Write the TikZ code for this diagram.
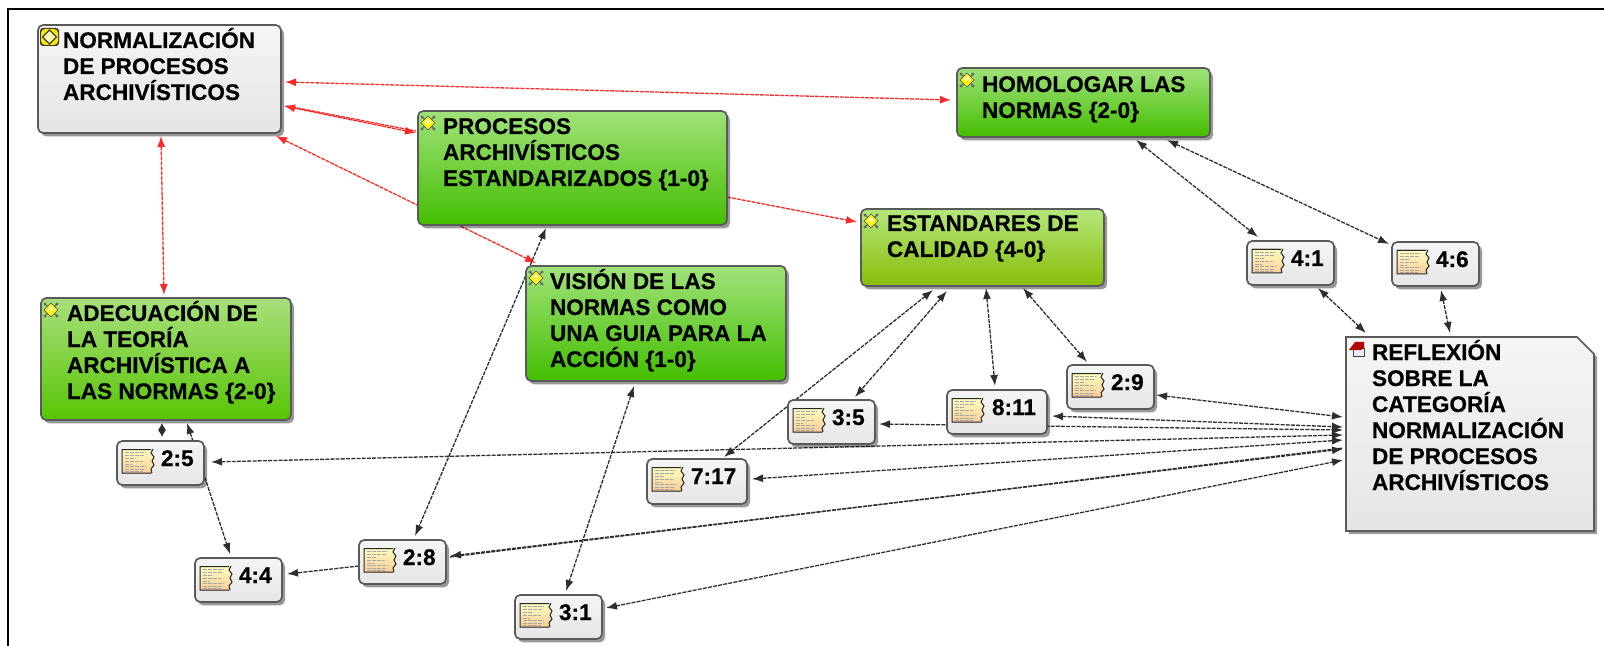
\documentclass[tikz,border=0pt]{standalone}
\usepackage{fontspec}
\setmainfont{Liberation Sans}[BoldFeatures={FakeBold=0.5}]
\usetikzlibrary{arrows.meta,calc,shadows,backgrounds}
\pgfdeclarelayer{bottom}
\pgfsetlayers{bottom,background,main}
\definecolor{lnred}{HTML}{FF2A2A}
\definecolor{lnblk}{HTML}{2E2E2E}
\definecolor{bordr}{HTML}{5A5A5A}
\definecolor{green1}{HTML}{A0E27A}
\definecolor{green2}{HTML}{43BE00}
\definecolor{lime1}{HTML}{B4E67C}
\definecolor{lime2}{HTML}{88BE08}
\definecolor{ade1}{HTML}{A8E07C}
\definecolor{ade2}{HTML}{58C404}
\tikzset{
  x=0.5pt,y=-0.5pt,
  basebox/.style={draw=bordr,line width=0.85pt,rounded corners=2.6pt,inner sep=0pt,outer sep=0pt,anchor=north west,
    general shadow={fill=black,opacity=.4,shadow xshift=1.5pt,shadow yshift=-1.7pt}},
  graybox/.style={basebox,top color=white!96!black,bottom color=white!90!black},
  greenbox/.style={basebox,top color=green1,bottom color=green2},
  limebox/.style={basebox,top color=lime1,bottom color=lime2},
  adebox/.style={basebox,top color=ade1,bottom color=ade2},
  rellink/.style={lnred,line width=.65pt,dash pattern=on 2pt off .5pt},
  cititem/.style={lnblk,line width=.65pt,dash pattern=on 2pt off .6pt},
  both/.style={{Latex[length=5.5pt,width=4pt]}-{Latex[length=5.5pt,width=4pt]}},
  one/.style={-{Latex[length=5.5pt,width=4pt]}},
  shortboth/.style={{Latex[length=3.4pt,width=4pt]}-{Latex[length=3.4pt,width=4pt]}},
}
% box: name, style, x1,y1,x2,y2, text x, first baseline y, text
\newcommand\bx[9]{%
  \pgfmathsetlengthmacro\bw{(#5-#3)*0.5pt}%
  \pgfmathsetlengthmacro\bh{(#6-#4)*0.5pt}%
  \pgfmathsetlengthmacro\bl{(#7-#3)*0.5pt}%
  \pgfmathsetlengthmacro\bb{(#8-#4)*0.5pt}%
  \node[#2,minimum width=\bw,minimum height=\bh] (#1) at (#3,#4)
   {\parbox[c][\bh][t]{\bw}{\fontsize{11.3}{13}\bfseries\raggedright\leftskip=\bl\rule{0pt}{\bb}#9}};%
}
\newcommand\qbx[4]{\bx{#1}{graybox}{#2}{#3}{\the\numexpr #2+87\relax}{\the\numexpr #3+44\relax}{\the\numexpr #2+44\relax}{\the\numexpr #3+25\relax}{#4}}
\newcommand\lnk[7]{\draw[#1] ($(#2.north west)+(#3,#4)$) -- ($(#5.north west)+(#6,#7)$);}
\newcommand\codeicon[1]{%
 \begin{scope}[shift={(#1.north west)}]
  \draw[gray!85!black,line width=.7pt] (4,6)--(16,18) (16,6)--(4,18);
  \fill[black!60] (4,6) circle (.8pt) (16,6) circle (.8pt) (4,18) circle (.8pt) (16,18) circle (.8pt);
  \draw[black!70,line width=.25pt,fill=yellow!90!white] (10,5)--(17,12)--(10,19)--(3,12)--cycle;
  \fill[white!70!yellow] (10,8)--(13,11)--(10,13)--(7,11)--cycle;
 \end{scope}}
\newcommand\docicon[1]{%
 \begin{scope}[shift={(#1.north west)}]
  \fill[top color=yellow!25!white,bottom color=orange!40!white] (5,8)--(36,8)--(34,12)--(37,16)--(35,20)--(37,24)--(34,28)--(35,32)--(5,32)--cycle;
  \draw[black!85,line width=.5pt] (34,8.5)--(5,8.5)--(5,32)--(34,32) (36,8)--(34,12)--(37,16)--(35,20)--(37,24)--(34,28)--(35,32);
  \foreach \yy/\xa in {11/29,14/27,17/18,20/26,23/15,25.5/29,28/28,30/26}{\draw[black!35,line width=.4pt,dash pattern=on 2pt off .5pt] (8,\yy)--(\xa,\yy);}
 \end{scope}}
\begin{document}
\begin{tikzpicture}
\useasboundingbox (0,0) rectangle (1604,646);
\begin{pgfonlayer}{bottom}
\fill[white] (0,0) rectangle (1604,646);
\draw[black,line width=1pt] (7.5,646) -- (7.5,9) -- (1604,9);
\end{pgfonlayer}

\bx{norm}{graybox}{38}{25}{281}{133}{63}{48}{NORMALIZACIÓN\\DE PROCESOS\\ARCHIVÍSTICOS}
\bx{proc}{greenbox}{418}{111}{727}{225}{443}{134}{PROCESOS\\ARCHIVÍSTICOS\\ESTANDARIZADOS \{1-0\}}
\bx{homo}{greenbox}{957}{68}{1210}{137}{982}{92}{HOMOLOGAR LAS\\NORMAS \{2-0\}}
\bx{est}{limebox}{861}{209}{1104}{286}{887}{231}{ESTANDARES DE\\CALIDAD \{4-0\}}
\bx{vis}{greenbox}{526}{266}{786}{381}{550}{289}{VISIÓN DE LAS\\NORMAS COMO\\UNA GUIA PARA LA\\ACCIÓN \{1-0\}}
\bx{ade}{adebox}{41}{298}{291}{420}{67}{321}{ADECUACIÓN DE\\LA TEORÍA\\ARCHIVÍSTICA A\\LAS NORMAS \{2-0\}}
\qbx{nb25}{117}{441}{2:5}
\qbx{nb44}{195}{558}{4:4}
\qbx{nb28}{359}{540}{2:8}
\qbx{nb31}{515}{595}{3:1}
\bx{nb717}{graybox}{647}{459}{747}{504}{691}{484}{7:17}
\qbx{nb35}{788}{400}{3:5}
\bx{nb811}{graybox}{947}{390}{1047}{434}{992}{415}{8:11}
\qbx{nb29}{1067}{365}{2:9}
\qbx{nb41}{1247}{241}{4:1}
\qbx{nb46}{1392}{242}{4:6}
% memo: chamfered sheet behind the text node
\path[fill=black,opacity=.4] (1349,340)--(1580,340)--(1597,357)--(1597,534)--(1349,534)--cycle;
\path[draw=bordr,line width=.85pt,top color=white!96!black,bottom color=white!90!black] (1346,337)--(1577,337)--(1594,354)--(1594,531)--(1346,531)--cycle;
\bx{refl}{inner sep=0pt,outer sep=0pt,anchor=north west}{1346}{337}{1594}{531}{1372}{360}{REFLEXIÓN\\SOBRE LA\\CATEGORÍA\\NORMALIZACIÓN\\DE PROCESOS\\ARCHIVÍSTICOS}

\begin{pgfonlayer}{background}
\lnk{rellink,both}{norm}{247}{57}{homo}{-6}{32}
\lnk{rellink,both}{norm}{246}{81}{proc}{-2}{22}
\lnk{rellink}{norm}{249}{81}{proc}{-2}{20}
\lnk{rellink,both}{norm}{238}{111}{vis}{10}{-3}
\lnk{rellink,both}{norm}{123}{111}{ade}{123}{-3}
\lnk{rellink,one}{proc}{309}{86}{est}{-4}{13}
\lnk{cititem,both}{homo}{179}{72}{nb41}{11}{-4}
\lnk{cititem,both}{homo}{210}{72}{nb46}{-3}{2}
\lnk{cititem,both}{nb41}{71}{47}{refl}{20}{-4}
\lnk{cititem,both}{nb46}{49}{48}{refl}{104}{-4}
\lnk{cititem,both}{nb29}{89}{30}{refl}{-3}{80}
\lnk{cititem,both}{nb811}{105}{26}{refl}{-3}{90}
\lnk{cititem,both}{nb35}{91}{24}{refl}{-3}{93}
\lnk{cititem,both}{nb25}{94}{21}{refl}{-3}{98}
\lnk{cititem,both}{nb717}{105}{20}{refl}{-3}{103}
\lnk{cititem,both}{nb28}{91}{16}{refl}{-3}{112}
\lnk{cititem}{nb28}{91}{17}{refl}{-3}{111}
\lnk{cititem,both}{nb31}{91}{13}{refl}{-3}{123}
\lnk{cititem,one}{nb28}{0}{26}{nb44}{92}{16}
\lnk{cititem,shortboth}{ade}{121}{125}{nb25}{45}{-4}
\lnk{cititem,both}{ade}{146}{125}{nb44}{35}{-4}
\lnk{cititem,both}{proc}{128}{117}{nb28}{56}{-4}
\lnk{cititem,both}{vis}{108}{120}{nb31}{51}{-4}
\lnk{cititem,both}{est}{72}{81}{nb717}{77}{-2}
\lnk{cititem,both}{est}{86}{82}{nb35}{67}{-3}
\lnk{cititem,both}{est}{125}{79}{nb811}{48}{-4}
\lnk{cititem,both}{est}{162}{79}{nb29}{20}{-3}
\end{pgfonlayer}

% icons
\begin{scope}[shift={(norm.north west)}]
  \fill[black!80,rounded corners=1.5pt] (2,3) rectangle (21,21);
  \fill[rounded corners=2pt,fill=yellow!90!orange] (3,4) rectangle (20,20);
  \draw[black!75,line width=.7pt,fill=yellow!30!white] (11.5,5)--(18.5,12)--(11.5,19)--(4.5,12)--cycle;
\end{scope}
\codeicon{proc}\codeicon{homo}\codeicon{est}\codeicon{vis}\codeicon{ade}
\docicon{nb25}\docicon{nb44}\docicon{nb28}\docicon{nb31}\docicon{nb717}\docicon{nb35}\docicon{nb811}\docicon{nb29}\docicon{nb41}\docicon{nb46}
\begin{scope}[shift={(refl.north west)}]
  \draw[black!75,line width=.5pt,fill=blue!8!white] (7,11) rectangle (18,19);
  \fill[red!70!black] (3,13)--(9,5)--(18,5)--(18,11)--(15,13)--cycle;
\end{scope}
\end{tikzpicture}
\end{document}
